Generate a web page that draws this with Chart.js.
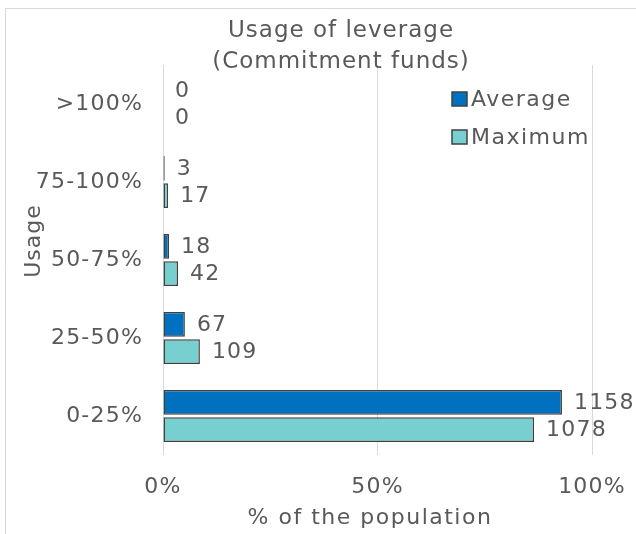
<!DOCTYPE html>
<html>
<head>
<meta charset="utf-8">
<script src="https://cdn.jsdelivr.net/npm/chart.js@4.4.0/dist/chart.umd.min.js"></script>
<style>
  body { margin: 0; background: #fff; }
  #wrap { width: 636px; height: 534px; }
</style>
</head>
<body>
<div id="wrap"><canvas id="myChart" width="636" height="534"></canvas></div>
<script>
// data
var categories = ['>100%', '75-100%', '50-75%', '25-50%', '0-25%'];
var averageShare = [0, 0.4, 1.4, 5.1, 93.0];   // % of the population
var maximumShare = [0, 1.2, 3.5, 8.6, 86.5];
var averageCount = [0, 3, 18, 67, 1158];       // numbers printed next to the bars
var maximumCount = [0, 17, 42, 109, 1078];
var xTicks = [0, 50, 100];

var FONT = 'DejaVu Sans';
var GREY = '#595959';
var SPACING = '1.2px';

// titles, legend, frame and the value labels
var extrasPlugin = {
    id: 'extras',
    beforeUpdate: function (chart) {
        chart.ctx.letterSpacing = SPACING;
    },
    beforeDraw: function (chart) {
        var ctx = chart.ctx;
        ctx.letterSpacing = SPACING;
        ctx.save();
        ctx.fillStyle = '#fff';
        ctx.fillRect(0, 0, chart.width, chart.height);
        ctx.strokeStyle = '#d9d9d9';
        ctx.lineWidth = 1;
        ctx.beginPath();
        ctx.moveTo(5.5, chart.height);
        ctx.lineTo(5.5, 8.5);
        ctx.lineTo(chart.width, 8.5);
        ctx.stroke();
        ctx.restore();
    },
    afterDatasetsDraw: function (chart) {
        var ctx = chart.ctx;
        ctx.save();
        ctx.font = '22px "' + FONT + '"';
        ctx.fillStyle = GREY;
        ctx.textBaseline = 'middle';
        ctx.textAlign = 'left';
        var counts = [averageCount, maximumCount];
        chart.data.datasets.forEach(function (ds, i) {
            var meta = chart.getDatasetMeta(i);
            meta.data.forEach(function (bar, j) {
                ctx.fillText(String(counts[i][j]), bar.x + 12, bar.y + 1);
            });
        });

        // chart title
        ctx.textAlign = 'center';
        ctx.letterSpacing = '1px';
        ctx.font = '23px "' + FONT + '"';
        ctx.fillText('Usage of leverage', 341, 31);
        ctx.fillText('(Commitment funds)', 341, 62);
        ctx.letterSpacing = '1.5px';

        // axis titles
        ctx.font = '22px "' + FONT + '"';
        ctx.fillText('% of the population', 370, 518);
        ctx.save();
        ctx.translate(34, 241);
        ctx.rotate(-Math.PI / 2);
        ctx.letterSpacing = '1px';
        ctx.fillText('Usage', 0, 0);
        ctx.restore();

        // legend
        var items = [
            { text: 'Average', color: '#0070c0', y: 99 },
            { text: 'Maximum', color: '#78cfcf', y: 137 }
        ];
        ctx.textAlign = 'left';
        items.forEach(function (it) {
            ctx.fillStyle = it.color;
            ctx.fillRect(452, it.y - 7, 15, 14);
            ctx.strokeStyle = '#404040';
            ctx.lineWidth = 1.5;
            ctx.strokeRect(452, it.y - 7, 15, 14);
            ctx.fillStyle = GREY;
            ctx.fillText(it.text, 471, it.y + 1);
        });
        ctx.restore();
    }
};

var ctx = document.getElementById('myChart').getContext('2d');
var myChart = new Chart(ctx, {
    type: 'bar',
    data: {
        labels: categories,
        datasets: [{
            label: 'Average',
            data: averageShare,
            backgroundColor: '#0070c0',
            borderColor: '#404040',
            borderWidth: 1.5,
            borderSkipped: false,
            categoryPercentage: 0.7,
            barPercentage: 0.9
        }, {
            label: 'Maximum',
            data: maximumShare,
            backgroundColor: '#78cfcf',
            borderColor: '#404040',
            borderWidth: 1.5,
            borderSkipped: false,
            categoryPercentage: 0.7,
            barPercentage: 0.9
        }]
    },
    options: {
        indexAxis: 'y',
        responsive: false,
        animation: false,
        layout: { padding: { top: 65, right: 44, left: 0, bottom: 0 } },
        plugins: {
            legend: { display: false },
            tooltip: { enabled: false }
        },
        scales: {
            x: {
                min: 0,
                max: 100,
                afterBuildTicks: function (axis) {
                    axis.ticks = xTicks.map(function (v) { return { value: v }; });
                },
                ticks: {
                    callback: function (v) { return v + '%'; },
                    font: { family: FONT, size: 22 },
                    color: GREY,
                    padding: 19,
                    maxRotation: 0
                },
                grid: { color: '#d9d9d9', lineWidth: 1, drawTicks: false },
                border: { display: false },
                afterFit: function (axis) {
                    axis.height = 79;
                    axis.paddingLeft = 0;
                    axis.paddingRight = 0;
                }
            },
            y: {
                ticks: {
                    font: { family: FONT, size: 22 },
                    color: GREY,
                    padding: 12
                },
                grid: { display: false },
                border: { display: false },
                afterFit: function (axis) { axis.width = 163; }
            }
        }
    },
    plugins: [extrasPlugin]
});
</script>
</body>
</html>
